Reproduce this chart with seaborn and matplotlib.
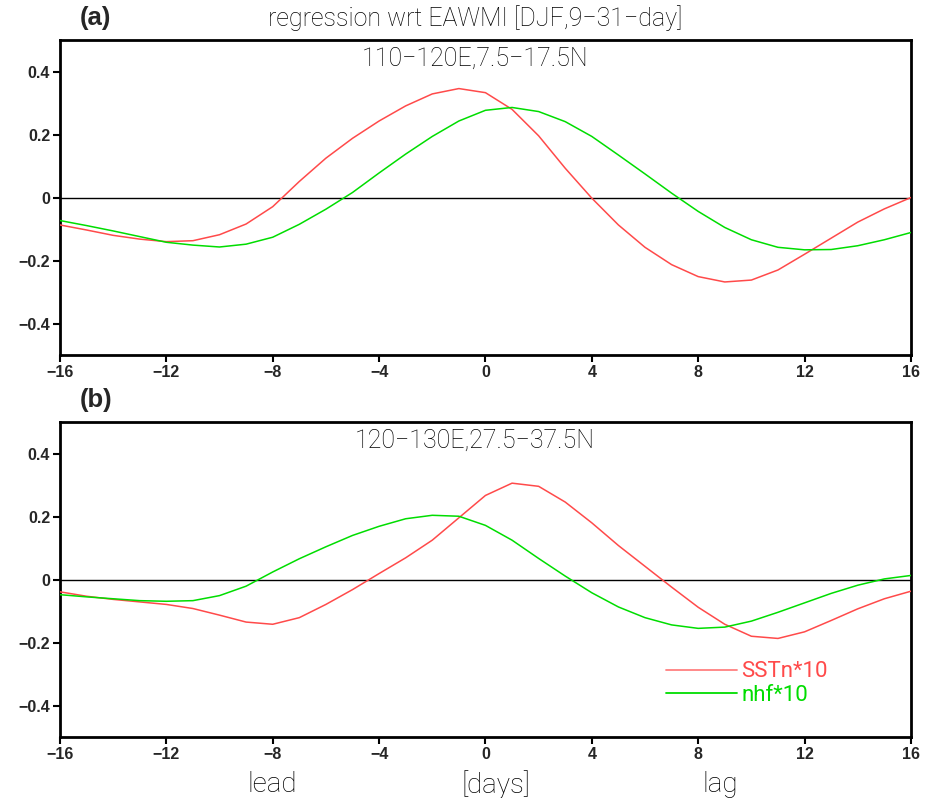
import numpy as np
import pandas as pd
import matplotlib
matplotlib.use("Agg")
import matplotlib.pyplot as plt
import seaborn as sns

days = list(range(-16, 17))

sst_a = [-0.087, -0.103, -0.120, -0.132, -0.140, -0.137, -0.118, -0.084, -0.029, 0.051,
         0.125, 0.188, 0.243, 0.291, 0.329, 0.346, 0.333, 0.280, 0.196, 0.093,
         -0.002, -0.087, -0.158, -0.213, -0.251, -0.268, -0.262, -0.230, -0.180, -0.129,
         -0.078, -0.036, 0.000]
nhf_a = [-0.073, -0.089, -0.106, -0.124, -0.142, -0.151, -0.157, -0.148, -0.126, -0.085,
         -0.037, 0.016, 0.078, 0.138, 0.194, 0.243, 0.277, 0.286, 0.273, 0.241,
         0.194, 0.135, 0.075, 0.014, -0.044, -0.095, -0.134, -0.158, -0.166, -0.165,
         -0.153, -0.134, -0.111]
sst_b = [-0.039, -0.053, -0.063, -0.071, -0.079, -0.092, -0.113, -0.135, -0.142, -0.121,
         -0.079, -0.032, 0.019, 0.069, 0.125, 0.196, 0.267, 0.306, 0.296, 0.246,
         0.180, 0.108, 0.042, -0.024, -0.088, -0.142, -0.180, -0.187, -0.166, -0.130,
         -0.093, -0.061, -0.037]
nhf_b = [-0.048, -0.055, -0.061, -0.067, -0.069, -0.067, -0.051, -0.021, 0.024, 0.066,
         0.104, 0.140, 0.169, 0.193, 0.204, 0.201, 0.172, 0.125, 0.067, 0.011,
         -0.042, -0.087, -0.121, -0.144, -0.155, -0.151, -0.132, -0.104, -0.074, -0.044,
         -0.018, 0.002, 0.013]

series_names = ["SSTn*10", "nhf*10"]
panel_titles = ["110\u2212120E,7.5\u221217.5N", "120\u2212130E,27.5\u221237.5N"]
panel_tags = ["(a)", "(b)"]
main_title = "regression wrt EAWMI [DJF,9\u221231\u2212day]"
xticks = [-16, -12, -8, -4, 0, 4, 8, 12, 16]
yticks = [-0.4, -0.2, 0, 0.2, 0.4]
ytick_labels = ["\u22120.4", "\u22120.2", "0", "0.2", "0.4"]
bottom_labels = ["lead", "[days]", "lag"]
bottom_pos = [-8, 0.38, 8.83]

red = "#ff4a4a"
green = "#00dd00"
palette = {series_names[0]: red, series_names[1]: green}
legend_line = {series_names[0]: "#ff8080", series_names[1]: "#00dd00"}
legend_text = {series_names[0]: "#ff4a4a", series_names[1]: "#00dd00"}

sns.set_theme(style="ticks")
plt.rcParams["font.family"] = ["DejaVu Sans"]

fig = plt.figure(figsize=(9.34, 7.98), dpi=100)
ax_a = fig.add_axes([0.0642, 0.5551, 0.9111, 0.3947])
ax_b = fig.add_axes([0.0642, 0.0764, 0.9111, 0.3947])

bold_family = ["Liberation Sans", "DejaVu Sans"]
tick_font = dict(family=bold_family, weight="bold", size=11.5)
thin_font = dict(family=["Roboto", "DejaVu Sans"], weight="light")

panels = [(ax_a, sst_a, nhf_a), (ax_b, sst_b, nhf_b)]
for i, (ax, s, n) in enumerate(panels):
    df = pd.DataFrame({
        "day": days + days,
        "value": s + n,
        "series": [series_names[0]] * len(days) + [series_names[1]] * len(days),
    })
    ax.axhline(0, color="black", lw=1.0, zorder=1)
    sns.lineplot(data=df, x="day", y="value", hue="series", palette=palette,
                 ax=ax, lw=1.1, legend=(i == 1), zorder=3)
    ax.set_xlim(-16, 16)
    ax.set_ylim(-0.5, 0.5)
    ax.set_xticks(xticks)
    ax.set_yticks(yticks)
    ax.set_xticklabels([str(t).replace("-", "\u2212") for t in xticks], **tick_font)
    ax.set_yticklabels(ytick_labels, **tick_font)
    ax.set_xlabel("")
    ax.set_ylabel("")
    ax.tick_params(direction="out", length=5, width=1.5, color="black", pad=2)
    for sp in ax.spines.values():
        sp.set_linewidth(2.0)
        sp.set_color("black")
        sp.set_visible(True)
    ax.text(0.4877, 0.94, panel_titles[i], transform=ax.transAxes, ha="center",
            va="center", fontsize=18, color="black", **thin_font)
    ax.text(0.023, 1.07, panel_tags[i], transform=ax.transAxes, ha="left",
            va="center", fontsize=18.5, family=bold_family, weight="bold")

ax_a.text(0.4877, 1.07, main_title, transform=ax_a.transAxes, ha="center", va="center",
          fontsize=18, color="black", **thin_font)

for lab, pos in zip(bottom_labels, bottom_pos):
    ax_b.text(pos, -0.65, lab, ha="center", va="center", fontsize=20,
              color="black", **thin_font)

leg = ax_b.legend(loc="upper left", bbox_to_anchor=(0.712, 0.24), frameon=False,
                  handlelength=3.2, handletextpad=0.2, labelspacing=0.1,
                  borderpad=0, borderaxespad=0,
                  prop=dict(family=["Roboto", "DejaVu Sans"], weight="normal", size=16))
for txt, name in zip(leg.get_texts(), series_names):
    txt.set_color(legend_text[name])
for h, name in zip(leg.get_lines(), series_names):
    h.set_linewidth(1.3)
    h.set_color(legend_line[name])

fig.savefig("out.png", dpi=100)
